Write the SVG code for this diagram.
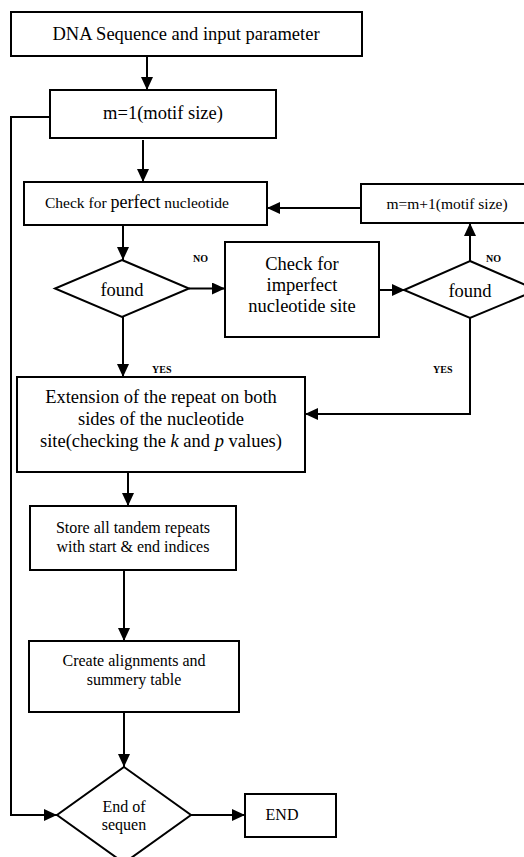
<svg xmlns="http://www.w3.org/2000/svg" width="524" height="857" viewBox="0 0 524 857" font-family="'Liberation Serif', 'Times New Roman', serif">
<defs>
<style>
.box{fill:#fff;stroke:#000;stroke-width:2}
.ln{fill:none;stroke:#000;stroke-width:2}
.arr{marker-end:url(#ah)}
text{font-family:"Liberation Serif","Times New Roman",serif;fill:#000}
.t18{font-size:18.5px;text-anchor:middle}
.t16{font-size:16px;text-anchor:middle}
.lbl{font-size:10px;font-weight:bold}
</style>
<marker id="ah" markerUnits="userSpaceOnUse" markerWidth="13" markerHeight="12" refX="13" refY="6" orient="auto">
<path d="M0,0 L13,6 L0,12 z" fill="#000"/>
</marker>
</defs>
<rect width="524" height="857" fill="#fff"/>

<g id="connectors">
<line class="ln arr" x1="147" y1="56" x2="147" y2="90"/>
<line class="ln arr" x1="143" y1="140" x2="143" y2="182"/>
<line class="ln arr" x1="361" y1="208" x2="267" y2="208"/>
<line class="ln arr" x1="123" y1="225" x2="123" y2="260"/>
<line class="ln arr" x1="189" y1="288.5" x2="225" y2="288.5"/>
<line class="ln arr" x1="379" y1="290" x2="405" y2="290"/>
<line class="ln arr" x1="470" y1="261" x2="470" y2="223"/>
<line class="ln arr" x1="123" y1="317" x2="123" y2="377"/>
<polyline class="ln arr" points="470,318 470,414 305,414"/>
<line class="ln arr" x1="128" y1="472" x2="128" y2="506"/>
<line class="ln arr" x1="124" y1="570" x2="124" y2="641"/>
<line class="ln arr" x1="124" y1="712" x2="124" y2="767"/>
<line class="ln arr" x1="191" y1="815" x2="245" y2="815"/>
<polyline class="ln arr" points="50,117 11,117 11,815 57,815"/>
<text class="lbl" x="193" y="262">NO</text>
<text class="lbl" x="486" y="262">NO</text>
<text class="lbl" x="152" y="373">YES</text>
<text class="lbl" x="433" y="373">YES</text>
</g>

<g id="n-input">
<rect class="box" x="11" y="12" width="351" height="44"/>
<text class="t18" x="186" y="40">DNA Sequence and input parameter</text>
</g>

<g id="n-m1">
<rect class="box" x="50" y="90" width="226" height="48"/>
<text class="t18" x="163" y="119">m=1(motif size)</text>
</g>

<g id="n-perfect">
<rect class="box" x="24" y="182" width="243" height="43"/>
<text x="45" y="208" font-size="15.5px">Check for <tspan font-size="18px">perfect</tspan> nucleotide</text>
</g>

<g id="n-mplus">
<rect class="box" x="361" y="184" width="170" height="39"/>
<text x="447" y="209" font-size="15.5px" text-anchor="middle">m=m+1(motif size)</text>
</g>

<g id="n-found1">
<polygon class="box" points="122,260 189,288.5 122,317 55,288.5"/>
<text class="t18" x="122" y="296">found</text>
</g>

<g id="n-imperfect">
<rect class="box" x="225" y="242" width="154" height="95"/>
<text class="t18" x="302" y="270">Check for</text>
<text class="t18" x="302" y="291">imperfect</text>
<text class="t18" x="302" y="312">nucleotide site</text>
</g>

<g id="n-found2">
<polygon class="box" points="470,261 537,290 470,318 404,290"/>
<text class="t18" x="470" y="297">found</text>
</g>

<g id="n-extension">
<rect class="box" x="17" y="377" width="288" height="95"/>
<text class="t18" x="161" y="403">Extension of the repeat on both</text>
<text class="t18" x="161" y="425">sides of the nucleotide</text>
<text class="t18" x="161" y="447">site(checking the <tspan font-style="italic">k</tspan> and <tspan font-style="italic">p</tspan> values)</text>
</g>

<g id="n-store">
<rect class="box" x="30" y="506" width="206" height="64"/>
<text class="t16" x="133" y="533">Store all tandem repeats</text>
<text class="t16" x="133" y="552">with start &amp; end indices</text>
</g>

<g id="n-create">
<rect class="box" x="29" y="641" width="210" height="71"/>
<text class="t16" x="134" y="666">Create alignments and</text>
<text class="t16" x="134" y="685">summery table</text>
</g>

<g id="n-end-seq">
<polygon class="box" points="124,767 191,815 124,863 57,815"/>
<text class="t16" x="124" y="812">End of</text>
<text class="t16" x="124" y="830">sequen</text>
</g>

<g id="n-end">
<rect class="box" x="245" y="794" width="91" height="43"/>
<text class="t16" x="282" y="820">END</text>
</g>
</svg>
